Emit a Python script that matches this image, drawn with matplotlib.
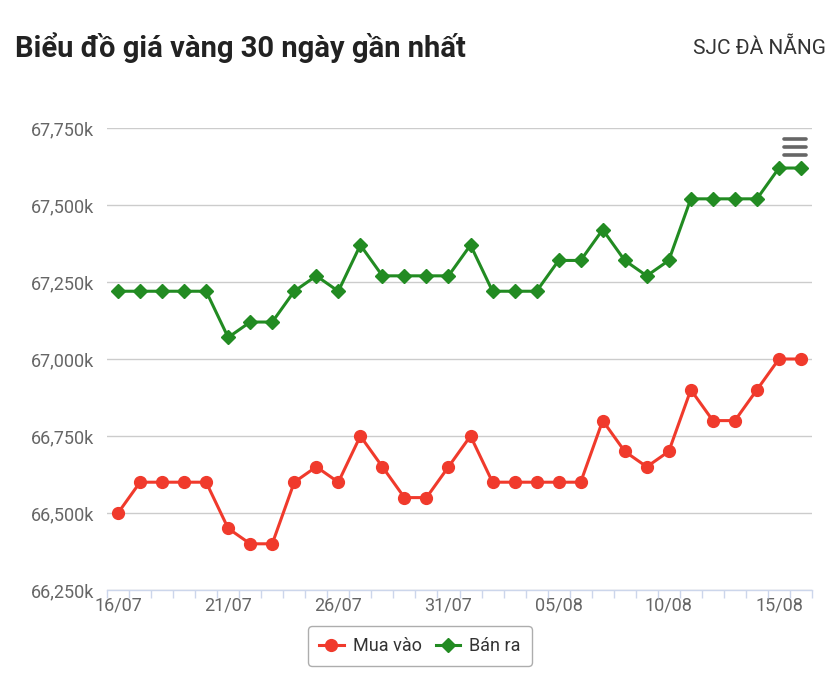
import matplotlib.pyplot as plt
from matplotlib.lines import Line2D
from matplotlib.ticker import FuncFormatter
import numpy as np

plt.rcParams['font.family'] = ['Roboto', 'DejaVu Sans']

# 16/07 -> 16/08
dates = ["%02d/07" % d for d in range(16, 32)] + ["%02d/08" % d for d in range(1, 17)]

mua_vao = [66500, 66600, 66600, 66600, 66600, 66450, 66400, 66400,
           66600, 66650, 66600, 66750, 66650, 66550, 66550, 66650,
           66750, 66600, 66600, 66600, 66600, 66600, 66800, 66700,
           66650, 66700, 66900, 66800, 66800, 66900, 67000, 67000]

ban_ra = [67220, 67220, 67220, 67220, 67220, 67070, 67120, 67120,
          67220, 67270, 67220, 67370, 67270, 67270, 67270, 67270,
          67370, 67220, 67220, 67220, 67320, 67320, 67420, 67320,
          67270, 67320, 67520, 67520, 67520, 67520, 67620, 67620]

y_ticks = [66250, 66500, 66750, 67000, 67250, 67500, 67750]

RED = '#f03a2c'
GREEN = '#228b22'
GRID = '#cccccc'
AXIS = '#ccd6eb'
LABEL = '#666666'

fig = plt.figure(figsize=(8.36, 6.8), dpi=100)
ax = fig.add_axes([107 / 836, 1 - 590 / 680, (812 - 107) / 836, (590 - 128) / 680])

x = np.arange(len(dates))
ax.plot(x, mua_vao, '-o', color=RED, lw=2.2, ms=8.5, label='Mua vào', zorder=3)
ax.plot(x, ban_ra, '-D', color=GREEN, lw=2.2, ms=7, label='Bán ra', zorder=3)

ax.set_xlim(-0.5, len(dates) - 0.5)
ax.set_ylim(66250, 67750)
ax.set_yticks(y_ticks)
ax.yaxis.set_major_formatter(FuncFormatter(lambda v, p: f"{v:,.0f}k"))
ax.grid(axis='y', color=GRID, lw=1)
ax.set_axisbelow(True)

ax.set_xticks(x[::5])
ax.set_xticklabels(dates[::5])
ax.set_xticks(np.arange(-0.5, len(dates)), minor=True)
ax.tick_params(axis='x', which='major', length=0, pad=5, labelsize=13, labelcolor=LABEL)
ax.tick_params(axis='x', which='minor', length=6, width=1, color=AXIS)
ax.tick_params(axis='y', length=0, pad=9, labelsize=13, labelcolor=LABEL)

for s in ['top', 'right', 'left']:
    ax.spines[s].set_visible(False)
ax.spines['bottom'].set_color(AXIS)
ax.spines['bottom'].set_linewidth(1)

fig.text(15 / 836, 1 - 48 / 680, "Biểu đồ giá vàng 30 ngày gần nhất",
         fontsize=21, fontweight='bold', color='#222222', va='center', ha='left')
fig.text(826 / 836, 1 - 48 / 680, "SJC ĐÀ NẴNG",
         fontsize=15, color='#333333', va='center', ha='right')

# menu icon
for yy in [139, 147, 155]:
    fig.add_artist(Line2D([784 / 836, 806 / 836], [1 - yy / 680, 1 - yy / 680],
                          color='#666666', lw=2.6, solid_capstyle='round',
                          transform=fig.transFigure))

leg = ax.legend(loc='center', bbox_to_anchor=(420 / 836, 1 - 646 / 680),
                bbox_transform=fig.transFigure, ncol=2, frameon=True,
                fontsize=13, handlelength=1.35, handletextpad=0.5,
                columnspacing=0.8, borderpad=0.6, fancybox=True)
leg.get_frame().set_edgecolor('#999999')
leg.get_frame().set_linewidth(1)
for t in leg.get_texts():
    t.set_color('#333333')

fig.savefig('out.png', dpi=100)
